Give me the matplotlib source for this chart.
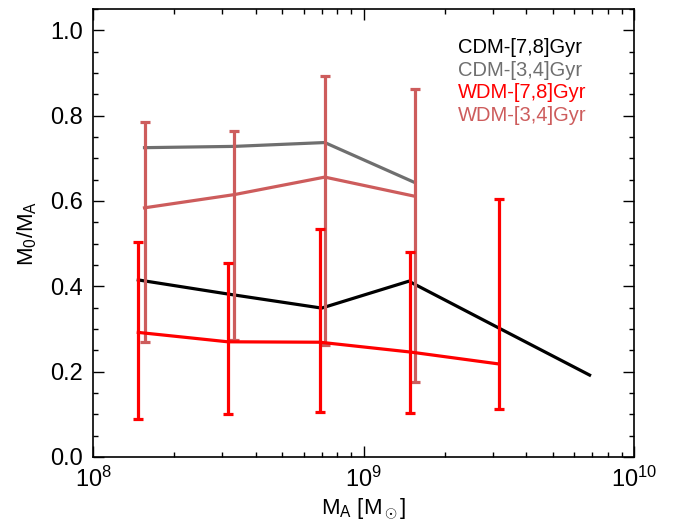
import numpy as np
import matplotlib
matplotlib.use("Agg")
import matplotlib.pyplot as plt
from matplotlib.ticker import LogLocator, MultipleLocator, FixedLocator

plt.rcParams['font.family'] = ['Liberation Sans', 'DejaVu Sans']
plt.rcParams['mathtext.fontset'] = 'custom'
plt.rcParams['mathtext.rm'] = 'Liberation Sans'
plt.rcParams['mathtext.it'] = 'Liberation Sans'
plt.rcParams['mathtext.bf'] = 'Liberation Sans'

# ---- data ----
labels = ["CDM-[7,8]Gyr", "CDM-[3,4]Gyr", "WDM-[7,8]Gyr", "WDM-[3,4]Gyr"]
colors = ["black", "#6f6f6f", "#ff0000", "#cd5c5c"]

cdm78_x = [1.47e8, 3.15e8, 7.0e8, 1.47e9, 3.17e9, 6.85e9]
cdm78_y = [0.415, 0.382, 0.349, 0.412, 0.302, 0.192]

cdm34_x = [1.55e8, 3.33e8, 7.19e8, 1.55e9]
cdm34_y = [0.725, 0.728, 0.737, 0.643]

wdm78_x = [1.47e8, 3.15e8, 6.90e8, 1.49e9, 3.17e9]
wdm78_y = [0.292, 0.270, 0.269, 0.246, 0.218]
wdm78_lo = [0.089, 0.100, 0.106, 0.102, 0.112]
wdm78_hi = [0.504, 0.455, 0.534, 0.481, 0.604]

wdm34_x = [1.55e8, 3.33e8, 7.19e8, 1.55e9]
wdm34_y = [0.584, 0.615, 0.656, 0.611]
wdm34_lo = [0.270, 0.274, 0.262, 0.175]
wdm34_hi = [0.784, 0.764, 0.892, 0.863]

xlim = (1e8, 1e10)
ylim = (0.0, 1.05)

# ---- figure ----
fig = plt.figure(figsize=(6.87, 5.23), dpi=100)
ax = fig.add_axes([0.1354, 0.1262, 0.7875, 0.8566])
lw = 2.3

ax.plot(cdm78_x, cdm78_y, color=colors[0], lw=lw)
ax.plot(cdm34_x, cdm34_y, color=colors[1], lw=lw)

def draw_err(x, y, lo, hi, c):
    y = np.array(y); lo = np.array(lo); hi = np.array(hi)
    ax.errorbar(x, y, yerr=[y - lo, hi - y], color=c, lw=lw, elinewidth=lw,
                capsize=3.5, capthick=lw)

draw_err(wdm34_x, wdm34_y, wdm34_lo, wdm34_hi, colors[3])
draw_err(wdm78_x, wdm78_y, wdm78_lo, wdm78_hi, colors[2])

ax.set_xscale('log')
ax.set_xlim(*xlim)
ax.set_ylim(*ylim)

ax.xaxis.set_major_locator(FixedLocator([1e8, 1e9, 1e10]))
ax.xaxis.set_minor_locator(LogLocator(base=10, subs=np.arange(2, 10), numticks=20))
ax.set_xticklabels([r'$10^{8}$', r'$10^{9}$', r'$10^{10}$'])
ax.set_yticks([0.0, 0.2, 0.4, 0.6, 0.8, 1.0])
ax.set_yticklabels(['0.0', '0.2', '0.4', '0.6', '0.8', '1.0'])
ax.yaxis.set_minor_locator(MultipleLocator(0.05))

ax.tick_params(which='both', direction='in', top=True, right=True, labelsize=17, width=1.0)
ax.tick_params(which='major', length=8, pad=7)
ax.tick_params(which='minor', length=3.5)
for s in ax.spines.values():
    s.set_linewidth(1.2)

ax.set_xlabel(r'M$_\mathrm{A}$ [M$_\odot$]', fontsize=16, labelpad=3)
ax.set_ylabel(r'M$_\mathrm{0}$/M$_\mathrm{A}$', fontsize=16, labelpad=8)

ypos = [0.913, 0.862, 0.813, 0.763]
for lab, c, yp in zip(labels, colors, ypos):
    ax.text(0.675, yp, lab, color=c, fontsize=14.5, transform=ax.transAxes, va='center', ha='left')

fig.savefig("out.png", dpi=100)
